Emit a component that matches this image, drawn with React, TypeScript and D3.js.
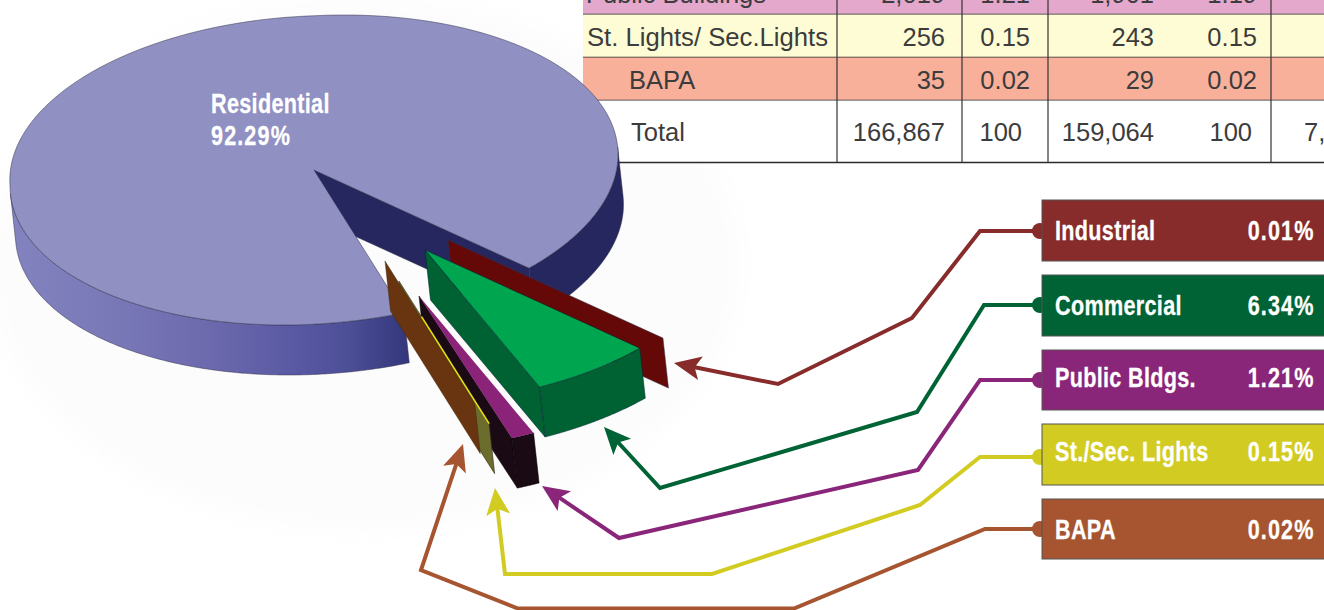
import React from "react";
import * as d3 from "d3";

// ---------- data ----------
const sliceNames = ["Industrial", "Commercial", "Public Bldgs.", "St./Sec. Lights", "BAPA", "Residential"];
const sliceShares = [0.01, 6.34, 1.21, 0.15, 0.02, 92.29];
const legendLabels = ["Industrial", "Commercial", "Public Bldgs.", "St./Sec. Lights", "BAPA"];
const legendValues = ["0.01%", "6.34%", "1.21%", "0.15%", "0.02%"];
const tableNames = ["Public Buildings", "St. Lights/ Sec.Lights", "BAPA", "Total"];
const tableCol1 = ["2,019", "256", "35", "166,867"];
const tableCol2 = ["1.21", "0.15", "0.02", "100"];
const tableCol3 = ["1,901", "243", "29", "159,064"];
const tableCol4 = ["1.19", "0.15", "0.02", "100"];
const tableCol5 = ["", "", "", "7,803"];

// ---------- layout ----------
const W = 1324, H = 610;
const C = { x: 314, y: 170, rx: 304, ry: 155, rho: -0.1 };
const DEPTH = { x: 5.5, y: 50 };
const START = Math.PI / 4;
const explode: Record<string, [number, number]> = {
  Industrial: [134, 70],
  Commercial: [111, 80],
  "Public Bldgs.": [105, 126],
  "St./Sec. Lights": [85, 111],
  BAPA: [71, 91],
  Residential: [0, 0],
};
const sliceFill: Record<string, string> = {
  Industrial: "#640808",
  Commercial: "#00a54f",
  "Public Bldgs.": "#8b2379",
  "St./Sec. Lights": "#6c6c2c",
  BAPA: "#683510",
  Residential: "#9090c2",
};
const legendColor = ["#872b2b", "#006335", "#8a2679", "#d2cc22", "#a65530"];
const boxY = [[200, 261], [275, 336], [350, 410], [424, 485], [499, 559]];
const labelBase = [240, 315, 387, 461, 539];
const routes: [number, number][][] = [
  [[1040, 231], [980, 231], [912, 318], [778, 384], [674, 363]],
  [[1040, 305], [984, 305], [917, 412], [660, 488], [604, 427]],
  [[1040, 380], [980, 380], [918, 470], [619, 538], [542, 486]],
  [[1040, 457], [980, 457], [920, 505], [712, 574], [505, 574], [495, 488]],
  [[1040, 529], [985, 529], [794, 608.5], [518, 608.5], [421, 570], [463, 444]],
];

const project = (t: number, f = 1, off: [number, number] = [0, 0], d = 0): [number, number] => {
  const c = Math.cos(t), s = Math.sin(t);
  // the drawn disc bulges a little towards its upper left
  const k = f * (1 + 0.036 * Math.max(0, -c) * Math.max(0, -s));
  return [
    C.x + off[0] + k * C.rx * c + d * DEPTH.x,
    C.y + off[1] + k * C.ry * (C.rho * c + Math.sqrt(1 - C.rho * C.rho) * s) + d * DEPTH.y,
  ];
};
const line = d3.line<[number, number]>().x((p) => p[0]).y((p) => p[1]);
const closed = (pts: [number, number][]) => (line(pts) as string) + "Z";
const arcPts = (a: number, b: number, off: [number, number] = [0, 0], d = 0) =>
  d3.range(0, 181).map((i) => project(a + ((b - a) * i) / 180, 1, off, d));

const pie = d3.pie<number>().sort(null).startAngle(START).endAngle(START + 2 * Math.PI);
const arcs = pie(sliceShares);
const A = Object.fromEntries(sliceNames.map((n, i) => [n, arcs[i]]));

const band = (a: number, b: number, off: [number, number] = [0, 0]) =>
  closed([...arcPts(a, b, off, 0), ...arcPts(a, b, off, 1).reverse()]);
const wall = (t: number, off: [number, number], f0 = 0, f1 = 1) =>
  closed([project(t, f0, off), project(t, f1, off), project(t, f1, off, 1), project(t, f0, off, 1)]);
const wedge = (a: number, b: number, off: [number, number]) =>
  closed([project(a, 0, off), ...arcPts(a, b, off)]);

const STROKE = "#33334a";
const TABLE_FONT = "'Liberation Sans', Arial, sans-serif";
const LABEL_FONT = "'Liberation Sans', Arial, sans-serif";

const Cond = ({ x, y, anchor, spacing = 0.4, children }: any) => (
  <text
    transform={`translate(${x},${y}) scale(0.8,1)`}
    fontFamily={LABEL_FONT}
    fontWeight={700}
    fontSize={27}
    letterSpacing={spacing}
    fill="#fff"
    stroke="#fff"
    strokeWidth={0.3}
    textAnchor={anchor}
  >
    {children}
  </text>
);

const Arrow = ({ pts, color }: { pts: [number, number][]; color: string }) => {
  const n = pts.length;
  const tip = pts[n - 1], prev = pts[n - 2];
  const len = Math.hypot(prev[0] - tip[0], prev[1] - tip[1]);
  const ux = (prev[0] - tip[0]) / len, uy = (prev[1] - tip[1]) / len;
  const at = (along: number, side: number): [number, number] => [
    tip[0] + ux * along - uy * side,
    tip[1] + uy * along + ux * side,
  ];
  const body = [...pts.slice(0, n - 1), at(20, 0)];
  return (
    <g>
      <path d={line(body) as string} fill="none" stroke={color} strokeWidth={4} strokeLinejoin="miter" />
      <path d={closed([tip, at(27, 12), at(21, 0), at(27, -12)])} fill={color} />
    </g>
  );
};

export default function App() {
  const ind = A["Industrial"], com = A["Commercial"], pub = A["Public Bldgs."], st = A["St./Sec. Lights"], ba = A["BAPA"], res = A["Residential"];
  const ex = explode;
  const deg = Math.PI / 180;
  const rows = [
    { y0: -30, y1: 14.5, fill: "#e5a8cd", base: 3 },
    { y0: 14.5, y1: 57.5, fill: "#fefcd5", base: 46 },
    { y0: 57.5, y1: 100.5, fill: "#f9b09b", base: 89 },
    { y0: 100.5, y1: 162.5, fill: "#ffffff", base: 141 },
  ];
  const cols = [837, 962, 1048, 1271];
  const nameX = [586, 587, 629, 631];
  return (
    <div style={{ position: "fixed", left: 0, top: 0, width: W, height: H, background: "#fff" }}>
      <svg width={W} height={H} viewBox={`0 0 ${W} ${H}`} style={{ display: "block" }}>
        <defs>
          <linearGradient id="rim" gradientUnits="userSpaceOnUse" x1={10} x2={410} y1={0} y2={0}>
            <stop offset="0" stopColor="#8283bf" />
            <stop offset="0.25" stopColor="#7a79b8" />
            <stop offset="0.5" stopColor="#6c69ad" />
            <stop offset="0.7" stopColor="#5a5aa4" />
            <stop offset="0.85" stopColor="#4c4e96" />
            <stop offset="1" stopColor="#33367a" />
          </linearGradient>
          <filter id="soft" x="-20%" y="-20%" width="140%" height="140%">
            <feGaussianBlur stdDeviation="14" />
          </filter>
        </defs>

        <ellipse cx={365} cy={265} rx={375} ry={265} fill="#fcfcfc" filter="url(#soft)" />

        {/* table */}
        <g>
          {rows.map((r, i) => (
            <g key={i}>
              <rect x={583} y={r.y0} width={W - 583} height={r.y1 - r.y0} fill={r.fill} />
              <line x1={583} x2={W} y1={r.y1} y2={r.y1} stroke="#2a2a2a" strokeWidth={1.4} />
            </g>
          ))}
          {cols.map((x) => (
            <line key={x} x1={x} x2={x} y1={0} y2={163} stroke="#333" strokeWidth={1.2} />
          ))}
          <g fontFamily={TABLE_FONT} fontWeight={400} fontSize={25.5} fill="#3c3c3c">
            {rows.map((r, i) => (
              <g key={i}>
                <text x={nameX[i]} y={r.base} textLength={i === 1 ? 241 : undefined} lengthAdjust="spacingAndGlyphs">{tableNames[i]}</text>
                <text x={945} y={r.base} textAnchor="end">{tableCol1[i]}</text>
                <text x={i === 3 ? 1022 : 1030} y={r.base} textAnchor="end">{tableCol2[i]}</text>
                <text x={1154} y={r.base} textAnchor="end">{tableCol3[i]}</text>
                <text x={i === 3 ? 1252 : 1257} y={r.base} textAnchor="end">{tableCol4[i]}</text>
                <text x={1304} y={r.base}>{tableCol5[i]}</text>
              </g>
            ))}
          </g>
        </g>

        {/* residential body: right rim, cut wall, front rim, top face */}
        <path d={band(-3 * deg, res.endAngle - 2 * Math.PI)} fill="#27275f" stroke={STROKE} strokeWidth={0.5} />
        <path d={wall(res.endAngle, [0, 0])} fill="#27275f" stroke={STROKE} strokeWidth={0.5} />
        <path d={band(res.startAngle, 177 * deg)} fill="url(#rim)" stroke={STROKE} strokeWidth={0.5} />
        <path
          d={closed([project(res.startAngle, 0), ...arcPts(res.startAngle, res.endAngle)])}
          fill={sliceFill.Residential}
          stroke={STROKE}
          strokeWidth={0.5}
        />

        {/* industrial wall */}
        <path d={wall(ind.startAngle, ex.Industrial)} fill={sliceFill.Industrial} stroke={STROKE} strokeWidth={0.5} />

        {/* commercial */}
        <path d={wall(com.endAngle, ex.Commercial)} fill="#006233" stroke="#023" strokeWidth={0.5} />
        <path d={band(com.startAngle, com.endAngle, ex.Commercial)} fill="#006233" stroke="#023" strokeWidth={0.5} />
        <path d={wedge(com.startAngle, com.endAngle, ex.Commercial)} fill={sliceFill.Commercial} stroke="#023" strokeWidth={0.5} />

        {/* public buildings */}
        <path d={wall(pub.endAngle, ex["Public Bldgs."])} fill="#1a0a14" stroke="#000" strokeWidth={0.5} />
        <path d={band(pub.startAngle, pub.endAngle, ex["Public Bldgs."])} fill="#1a0a14" stroke="#000" strokeWidth={0.5} />
        <path d={wedge(pub.startAngle, pub.endAngle, ex["Public Bldgs."])} fill={sliceFill["Public Bldgs."]} />

        {/* street lights */}
        <path d={wall(st.endAngle, ex["St./Sec. Lights"])} fill={sliceFill["St./Sec. Lights"]} stroke="#2c2c10" strokeWidth={0.6} />
        <path d={line([project(st.endAngle, 0.25, ex["St./Sec. Lights"]), project(st.endAngle, 1, ex["St./Sec. Lights"])]) as string} stroke="#e8e010" strokeWidth={1.6} fill="none" />

        {/* BAPA */}
        <path d={wall(ba.endAngle, ex.BAPA)} fill={sliceFill.BAPA} stroke="#3a2008" strokeWidth={0.4} />

        {/* connectors */}
        {routes.map((pts, i) => (
          <Arrow key={i} pts={pts} color={legendColor[i]} />
        ))}

        {/* legend */}
        {legendLabels.map((label, i) => {
          const [y0, y1] = boxY[i];
          return (
            <g key={label}>
              <circle cx={1040} cy={routes[i][0][1]} r={8} fill={legendColor[i]} />
              <rect x={1042} y={y0} width={W - 1042 + 4} height={y1 - y0} fill={legendColor[i]} stroke="#555" strokeWidth={1} />
              <Cond x={1055} y={labelBase[i]}>{label}</Cond>
              <Cond x={1314.5} y={labelBase[i]} anchor="end" spacing={1.4}>{legendValues[i]}</Cond>
            </g>
          );
        })}

        {/* residential label */}
        <Cond x={211} y={113}>{sliceNames[5]}</Cond>
        <Cond x={211} y={145} spacing={1.4}>{`${sliceShares[5]}%`}</Cond>
      </svg>
    </div>
  );
}
